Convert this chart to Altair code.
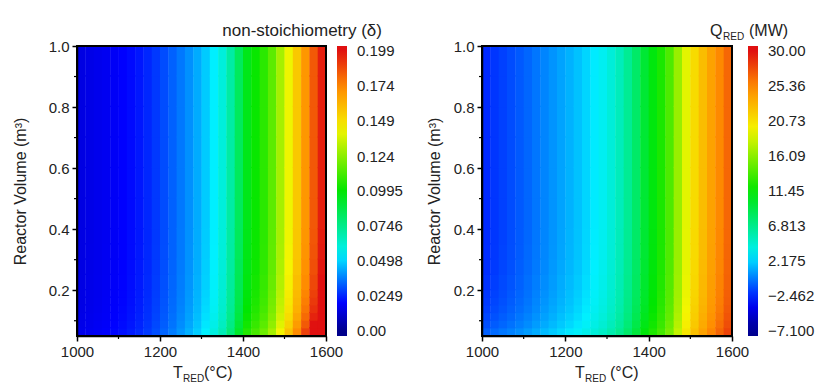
import altair as alt
import pandas as pd

FONT = "Liberation Sans"
TXT = "#222222"

# Temperature cells (left edges, 20 degC wide)
T_CELLS = list(range(1000, 1600, 20))
# Volume cells (finer near the bottom where the contours bend)
V_LO = [0.05, 0.075, 0.10, 0.125, 0.15, 0.175, 0.20, 0.25, 0.30, 0.35, 0.40, 0.50, 0.60, 0.70, 0.80, 0.90]
V_HI = [0.075, 0.10, 0.125, 0.15, 0.175, 0.20, 0.25, 0.30, 0.35, 0.40, 0.50, 0.60, 0.70, 0.80, 0.90, 1.00]

# non-stoichiometry along T at large volume
DELTA_T = [0.0150, 0.0158, 0.0166, 0.0175, 0.0185, 0.0197, 0.0212, 0.0230, 0.0252, 0.0278,
           0.0306, 0.0336, 0.0368, 0.0402, 0.0440, 0.0485, 0.0535, 0.0600, 0.0700, 0.0830,
           0.0950, 0.1010, 0.1070, 0.1160, 0.1290, 0.1420, 0.1560, 0.1700, 0.1840, 0.1960]
# relative increase of delta at small volumes
DELTA_V = [1.11, 1.08, 1.06, 1.045, 1.035, 1.027, 1.018, 1.01, 1.005, 1.002,
           1.0, 1.0, 1.0, 1.0, 1.0, 1.0]

# Q_RED along T at large volume (MW)
Q_T = [-2.30, -2.00, -1.70, -1.40, -1.05, -0.70, -0.30, 0.10, 0.50, 0.90,
       1.30, 1.70, 2.20, 2.80, 3.40, 4.20, 5.20, 6.50, 8.00, 9.70,
       11.00, 12.30, 14.00, 16.50, 19.00, 21.00, 22.60, 24.00, 25.30, 26.60]
Q_V = [1.4, 1.0, 0.75, 0.55, 0.42, 0.32, 0.22, 0.12, 0.06, 0.03,
       0.0, 0.0, 0.0, 0.0, 0.0, 0.0]

# colour-bar scales (end stops extend slightly past the labelled range)
DELTA_STOPS = [-0.0036, 0.0, 0.0199, 0.0537, 0.0995, 0.1433, 0.1731, 0.199, 0.2026]
Q_STOPS = [-7.76, -7.1, -3.39, 2.92, 11.45, 19.61, 25.18, 30.0, 30.66]
PALETTE = ["#00008b", "#00008b", "#0000ff", "#00f0ff", "#00e600", "#f5f500", "#ff8c00", "#e01010", "#e01010"]

DELTA_TICKS = [0.0, 0.0249, 0.0498, 0.0746, 0.0995, 0.124, 0.149, 0.174, 0.199]
Q_TICKS = [-7.1, -2.462, 2.175, 6.813, 11.45, 16.09, 20.73, 25.36, 30.0]

X_TICKS = [1000, 1200, 1400, 1600]
X_MINOR = [1100, 1300, 1500]
Y_TICKS = [0.2, 0.4, 0.6, 0.8, 1.0]
Y_MINOR = [0.1, 0.3, 0.5, 0.7, 0.9]

rows = []
for i, t0 in enumerate(T_CELLS):
    for j in range(len(V_LO)):
        rows.append({
            "T0": t0, "T1": t0 + 21,            # 1 degC overlap hides seams
            "V0": V_LO[j], "V1": V_HI[j] + 0.004,
            "delta": DELTA_T[i] * DELTA_V[j],
            "Q": Q_T[i] + Q_V[j],
        })
df = pd.DataFrame(rows)
one = pd.DataFrame({"s": [""]})
xminor = pd.DataFrame({"t": X_MINOR})
yminor = pd.DataFrame({"v": Y_MINOR})


def txt(s, x, y, size, align="left"):
    return alt.Chart(pd.DataFrame({"s": [s]})).mark_text(
        align=align, baseline="alphabetic", fontSize=size, font=FONT, color=TXT
    ).encode(x=alt.value(x), y=alt.value(y), text="s:N")


def frame(width, height):
    return alt.Chart(one).mark_rect(fill=None, stroke="black", strokeWidth=2).encode(
        x=alt.value(0), x2=alt.value(width), y=alt.value(0), y2=alt.value(height))


def minor_ticks(height):
    xt = alt.Chart(xminor).mark_rule(color="black", strokeWidth=1.2).encode(
        x="t:Q", y=alt.value(height), y2=alt.value(height + 3))
    yt = alt.Chart(yminor).mark_rule(color="black", strokeWidth=1.2).encode(
        y="v:Q", x=alt.value(-3), x2=alt.value(0))
    return [xt, yt]


def panel(field, stops, ticks, fmt, legend_x, width, title_pad, extra):
    cscale = alt.Scale(domain=stops, range=PALETTE, interpolate="rgb")
    heat = alt.Chart(df).mark_rect(clip=True).encode(
        x=alt.X("T0:Q", scale=alt.Scale(domain=[1000, 1600], nice=False, zero=False),
                axis=alt.Axis(values=X_TICKS, format="d", title=None,
                              labelFlush=False, tickSize=5, labelPadding=3, zindex=1)),
        x2="T1:Q",
        y=alt.Y("V0:Q", scale=alt.Scale(domain=[0.05, 1.0], nice=False, zero=False),
                axis=alt.Axis(values=Y_TICKS, format=".1f",
                              title="Reactor Volume (m³)", titlePadding=title_pad,
                              labelFlush=False, tickSize=5, labelPadding=3, zindex=1)),
        y2="V1:Q",
        color=alt.Color(f"{field}:Q", scale=cscale,
                        legend=alt.Legend(type="gradient", title=None, orient="none",
                                          legendX=legend_x, legendY=0,
                                          direction="vertical", gradientLength=290,
                                          gradientThickness=10, values=ticks, format=fmt,
                                          labelOffset=10, labelOverlap=False,
                                          gradientStrokeWidth=0)),
    )
    return alt.layer(heat, *minor_ticks(290), frame(width, 290), *extra).properties(
        width=width, height=290)


left = panel("delta", DELTA_STOPS, DELTA_TICKS, ".3g", 260, 249, 20, [
    txt("non-stoichiometry (δ)", 305, -10, 17, align="right"),
    txt("T", 96, 332, 16),
    txt("RED", 106, 336, 10),
    txt("(°C)", 127, 332, 16),
])

right = panel("Q", Q_STOPS, Q_TICKS, ".4g", 266, 250, 11, [
    txt("Q", 228, -10, 16),
    txt("RED", 241, -6, 10),
    txt("(MW)", 267, -10, 16),
    txt("T", 93, 332, 16),
    txt("RED", 103, 336, 10),
    txt("(°C)", 128, 332, 16),
])

chart = alt.hconcat(left, right, spacing=23).resolve_scale(
    color="independent", x="independent", y="independent"
).properties(
    padding={"left": 4, "top": 14, "right": 5, "bottom": 0}
).configure_view(
    stroke=None
).configure_axis(
    labelFont=FONT, labelFontSize=15, labelColor=TXT,
    titleFont=FONT, titleFontSize=16, titleFontWeight="normal", titleColor=TXT,
    domainColor="black", domainWidth=1.5, tickColor="black", tickWidth=1.5, grid=False
).configure_legend(
    labelFont=FONT, labelFontSize=15, labelColor=TXT
)

chart.save("out.html", embed_options={"renderer": "svg", "actions": False})
